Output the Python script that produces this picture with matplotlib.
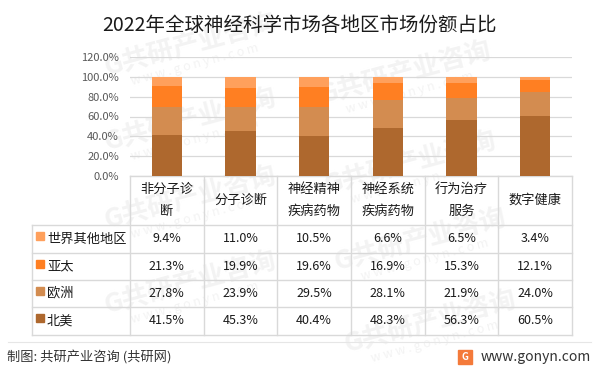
import numpy as np
import matplotlib.pyplot as plt
from matplotlib.patches import Rectangle

plt.rcParams['font.family'] = ['Noto Sans CJK SC', 'DejaVu Sans']

title = '2022年全球神经科学市场各地区市场份额占比'
categories = ['非分子诊\n断', '分子诊断', '神经精神\n疾病药物', '神经系统\n疾病药物', '行为治疗\n服务', '数字健康']
regions = ['北美', '欧洲', '亚太', '世界其他地区']
north_america = [41.5, 45.3, 40.4, 48.3, 56.3, 60.5]
europe = [27.8, 23.9, 29.5, 28.1, 21.9, 24.0]
asia_pacific = [21.3, 19.9, 19.6, 16.9, 15.3, 12.1]
rest_of_world = [9.4, 11.0, 10.5, 6.6, 6.5, 3.4]
colors = ['#AE682E', '#D38C50', '#FF7F22', '#FFA05C']
source = '制图: 共研产业咨询 (共研网)'
site = 'www.gonyn.com'

W, H = 599, 375
fig = plt.figure(figsize=(W / 100, H / 100), dpi=100)

# plot area in pixels
left, right, top0, bottom0 = 130, 572, 57, 176
ax = fig.add_axes([left / W, 1 - bottom0 / H, (right - left) / W, (bottom0 - top0) / H])
ax.patch.set_alpha(0)

series = [north_america, europe, asia_pacific, rest_of_world]
x = np.arange(len(categories))
base = np.zeros(len(categories))
for vals, c in zip(series, colors):
    v = np.array(vals) / 100
    ax.bar(x, v, 0.41, bottom=base, color=c, zorder=3)
    base += v

ax.set_xlim(-0.5, len(categories) - 0.5)
ax.set_ylim(0, 1.2)
ax.set_yticks(np.arange(0, 1.21, 0.2))
ax.set_yticklabels([f'{t * 100:.1f}%' for t in np.arange(0, 1.21, 0.2)], fontsize=8, color='#595959')
ax.tick_params(axis='y', length=0, pad=8)
ax.set_xticks([])
ax.grid(axis='y', color='#D9D9D9', linewidth=0.9, zorder=0)
for s in ax.spines.values():
    s.set_visible(False)

# overlay in pixel coords for the table and texts
ov = fig.add_axes([0, 0, 1, 1], zorder=-1)
ov.set_xlim(0, W)
ov.set_ylim(H, 0)
ov.axis('off')

# faint watermarks (interior ones only)
ang = 15
dx, dy = np.sin(np.radians(ang)) * 20, np.cos(np.radians(ang)) * 20
marks = [(190, 45), (190, 120), (190, 198), (190, 283),
         (405, 73), (410, 163), (420, 240), (430, 322)]
for cx, cy in marks:
    ov.text(cx, cy, 'G共研产业咨询', ha='center', va='center', rotation=ang, fontsize=19,
            fontweight='bold', color='#F3F3F3', zorder=0)
    ov.text(cx + dx, cy + dy, 'w w w . g o n y n . c o m', ha='center', va='center',
            rotation=ang, fontsize=9, color='#F3F3F3', zorder=0)

fig.text(0.5, 1 - 25 / H, title, ha='center', va='center', fontsize=14, color='#1a1a1a')

lc = '#D9D9D9'
colw = (right - left) / len(categories)
rows_y = [176, 225, 253, 280, 307, 335]
label_left = 32
ov.plot([left, right], [rows_y[0], rows_y[0]], color=lc, lw=1)
for yy in rows_y[1:]:
    ov.plot([label_left, right], [yy, yy], color=lc, lw=1)
for i in range(len(categories) + 1):
    xx = left + i * colw
    ov.plot([xx, xx], [rows_y[0], rows_y[-1]], color=lc, lw=1)
ov.plot([label_left, label_left], [rows_y[1], rows_y[-1]], color=lc, lw=1)

for i, cat in enumerate(categories):
    ov.text(left + (i + 0.5) * colw, (rows_y[0] + rows_y[1]) / 2, cat, ha='center', va='center',
            fontsize=9.5, color='#1a1a1a', linespacing=1.9)

table_rows = list(zip(regions, series, colors))[::-1]
for r, (name, vals, c) in enumerate(table_rows):
    y0, y1 = rows_y[r + 1], rows_y[r + 2]
    ym = (y0 + y1) / 2
    ov.add_patch(Rectangle((36, ym - 7), 8, 8, color=c))
    ov.text(47, ym, name, ha='left', va='center', fontsize=9.5, color='#1a1a1a')
    for i, v in enumerate(vals):
        ov.text(left + (i + 0.5) * colw, ym, f'{v:.1f}%', ha='center', va='center',
                fontsize=9, color='#1a1a1a')

# footer
ov.plot([8, 591], [342, 342], color='#E6E6E6', lw=0.8)
ov.text(7, 358, source, ha='left', va='center', fontsize=9.5, color='#333333', fontweight='medium')
ov.add_patch(Rectangle((458, 350), 14, 14, color='#F47A3A'))
ov.text(465, 357, 'G', ha='center', va='center', fontsize=7, color='white', fontweight='bold')
ov.text(591, 357, site, ha='right', va='center', fontsize=10, color='#333333')

fig.savefig('out.png', dpi=100)
